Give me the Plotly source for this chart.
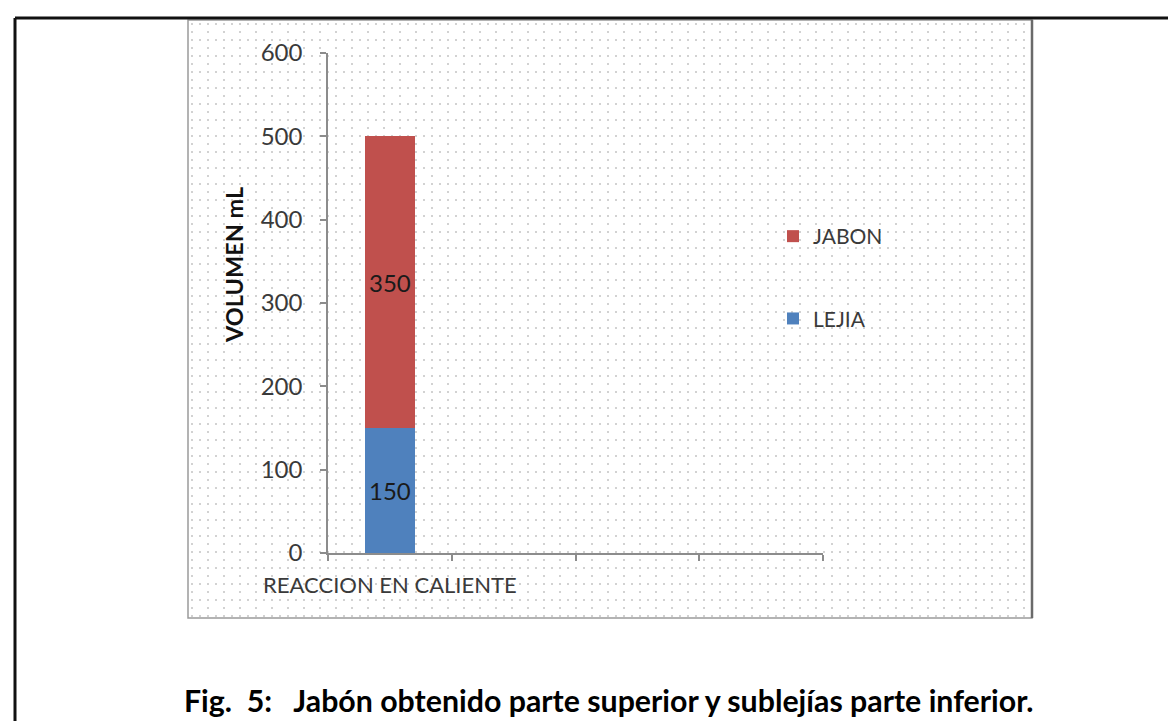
import base64
import plotly.graph_objects as go

# ---- data ----
categories = ["REACCION EN CALIENTE", " ", "  ", "   "]
series_names = ["LEJIA", "JABON"]
lejia_values = [150]
jabon_values = [350]
y_ticks = [0, 100, 200, 300, 400, 500, 600]
y_title = "VOLUMEN mL"
caption = "Fig.\u00a0\u00a05:\u00a0\u00a0\u00a0Jabón obtenido parte superior y sublejías parte inferior."

# ---- geometry helpers (pixels -> paper) ----
W_FIG, H_FIG = 1176, 721
L, R, T, B = 320, 815, 45, 545
PW, PH = R - L, B - T


def px(x):
    return (x - L) / PW


def py(y):
    return (B - y) / PH


FONT = "Lato"
TXT = "#3a3a3a"
AXIS = "#8c8c8c"

fig = go.Figure()
fig.add_trace(go.Bar(
    name=series_names[0], x=categories[:1], y=lejia_values,
    marker=dict(color="#4F81BD", line=dict(width=0)),
    text=[str(v) for v in lejia_values], textposition="inside",
    insidetextanchor="middle", textangle=0,
    textfont=dict(family=FONT, size=24, color="#1a1a1a"),
    legendgroup="a", legendrank=2,
))
fig.add_trace(go.Bar(
    name=series_names[1], x=categories[:1], y=jabon_values,
    marker=dict(color="#C0504D", line=dict(width=0)),
    text=[str(v) for v in jabon_values], textposition="inside",
    insidetextanchor="middle", textangle=0,
    textfont=dict(family=FONT, size=24, color="#1a1a1a"),
    legendgroup="b", legendrank=1,
))

# dotted background pattern for the chart area
BX0, BX1, BY0, BY1 = 180, 1024, 12, 610
bw, bh = BX1 - BX0, BY1 - BY0
svg = (
    f'<svg xmlns="http://www.w3.org/2000/svg" width="{bw}" height="{bh}" viewBox="0 0 {bw} {bh}">'
    '<defs><pattern id="p" width="16" height="16" patternUnits="userSpaceOnUse">'
    '<rect x="3" y="3" width="2" height="2" fill="#d2d2d2"/>'
    '<rect x="11" y="3" width="2" height="2" fill="#d2d2d2"/>'
    '<rect x="3" y="11" width="2" height="2" fill="#d2d2d2"/>'
    '</pattern></defs>'
    f'<rect width="{bw}" height="{bh}" fill="white"/>'
    f'<rect width="{bw}" height="{bh}" fill="url(#p)"/></svg>'
)
src = "data:image/svg+xml;base64," + base64.b64encode(svg.encode()).decode()

fig.update_layout(
    width=W_FIG, height=H_FIG, autosize=False,
    margin=dict(l=L, r=W_FIG - R, t=T, b=H_FIG - B, pad=0),
    paper_bgcolor="white", plot_bgcolor="rgba(0,0,0,0)",
    barmode="stack", bargap=0.6,
    font=dict(family=FONT, size=22, color=TXT),
    images=[dict(source=src, xref="paper", yref="paper",
                 x=px(BX0), y=py(BY0), sizex=bw / PW, sizey=bh / PH,
                 xanchor="left", yanchor="top", sizing="stretch",
                 layer="below")],
    xaxis=dict(
        type="category", categoryorder="array", categoryarray=categories,
        range=[-0.5, len(categories) - 0.5],
        showline=True, linecolor=AXIS, linewidth=1.5,
        ticks="outside", tickson="boundaries", ticklen=6, tickcolor=AXIS,
        tickwidth=1.5, showgrid=False, zeroline=False, tickangle=0,
        tickfont=dict(family=FONT, size=22, color=TXT),
        ticklabelstandoff=12,
    ),
    yaxis=dict(
        range=[0, 600], tickvals=y_ticks,
        showline=True, linecolor=AXIS, linewidth=1.5,
        ticks="outside", ticklen=6, tickcolor=AXIS, tickwidth=1.5,
        showgrid=False, zeroline=False,
        tickfont=dict(family=FONT, size=24, color=TXT),
        ticklabelstandoff=13,
    ),
    legend=dict(
        x=px(765), y=py(208), xanchor="left", yanchor="top",
        traceorder="grouped", tracegroupgap=52,
        font=dict(family=FONT, size=21, color=TXT),
        bgcolor="rgba(0,0,0,0)",
    ),
    showlegend=True,
)

# chart area border
fig.add_shape(type="rect", xref="paper", yref="paper",
              x0=px(BX0), x1=px(BX1), y0=py(BY1), y1=py(BY0),
              line=dict(color="#9a9a9a", width=1.5), layer="below")
fig.add_shape(type="line", xref="paper", yref="paper",
              x0=px(BX1), x1=px(BX1), y0=py(BY1), y1=py(BY0),
              line=dict(color="#6a6a6a", width=2.5))
# outer black frame (top and left visible)
fig.add_shape(type="line", xref="paper", yref="paper",
              x0=px(7), x1=px(1180), y0=py(10), y1=py(10),
              line=dict(color="#111111", width=3))
fig.add_shape(type="line", xref="paper", yref="paper",
              x0=px(7), x1=px(7), y0=py(10), y1=py(730),
              line=dict(color="#111111", width=3))

# y-axis title (placed as in the original, above the axis centre)
fig.add_annotation(text=f"<b>{y_title}</b>", xref="paper", yref="paper",
                   x=px(226), y=py(257), textangle=-90, showarrow=False,
                   font=dict(family=FONT, size=23.5, color="#111111"),
                   xanchor="center", yanchor="middle")
# caption
fig.add_annotation(text=f"<b>{caption}</b>", xref="paper", yref="paper",
                   x=px(600.5), y=py(692), showarrow=False,
                   font=dict(family=FONT, size=30.3, color="#000000"),
                   xanchor="center", yanchor="middle")

fig.write_html("out.html")
